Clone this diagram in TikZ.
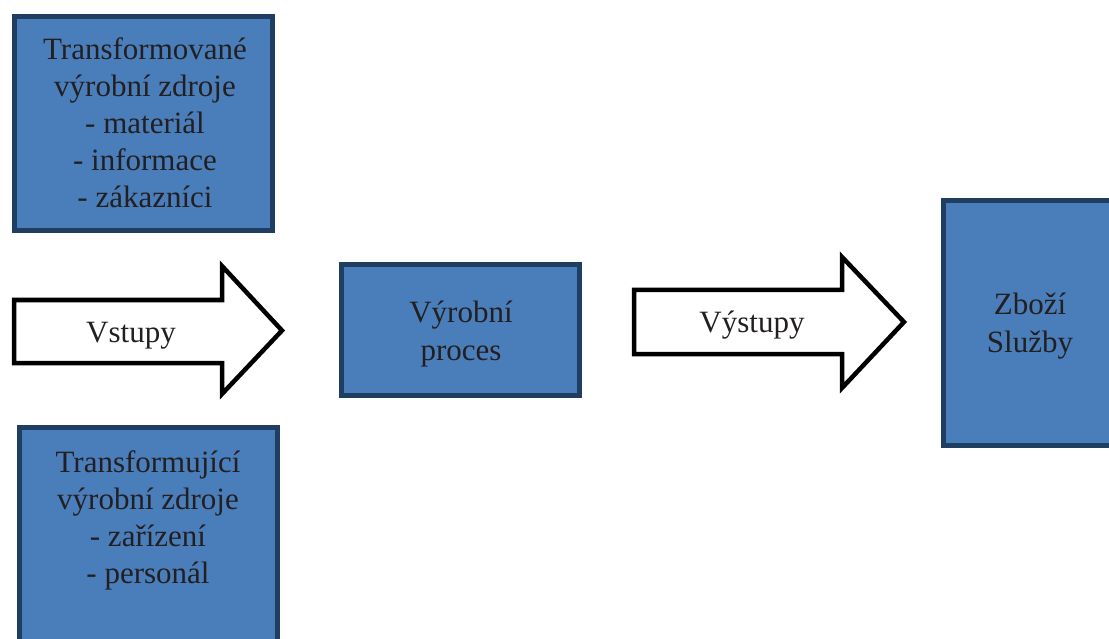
\documentclass[tikz,border=0pt]{standalone}
\usepackage{fontspec}
\setmainfont{Liberation Serif}
\definecolor{boxfill}{HTML}{4A7EBB}
\definecolor{boxline}{HTML}{1F3E62}
\definecolor{ink}{HTML}{231F20}
\begin{document}
\begin{tikzpicture}[x=1pt,y=-1pt,
  bluebox/.style={fill=boxfill,draw=boxline,line width=5pt},
  bigarrow/.style={fill=white,draw=black,line width=4.5pt,line join=miter},
  label/.style={text=ink,font=\fontsize{31}{37}\selectfont,align=center,inner sep=0pt,anchor=base}]
\useasboundingbox (0,0) rectangle (1109,639);
\clip (0,0) rectangle (1109,639);

% resource boxes on the left
\draw[bluebox] (14.5,16.5) rectangle (272.5,230.5);
\draw[bluebox] (19.5,427.5) rectangle (277.5,700);
% production process
\draw[bluebox] (341.5,264.5) rectangle (579.5,395.5);
% goods and services
\draw[bluebox] (943.5,200.5) rectangle (1116.5,445.5);

% block arrows
\draw[bigarrow] (14,300) -- (222,300) -- (222,266) -- (282,330.5) -- (222,394)
  -- (222,363) -- (14,363) -- cycle;
\draw[bigarrow] (634,290) -- (842,290) -- (842,257) -- (904,322) -- (842,388)
  -- (842,354) -- (634,354) -- cycle;

% texts
\node[label] (tv1) at (145,60) {Transformované};
\node[label] (tv2) at (145,97) {výrobní zdroje};
\node[label] (tv3) at (145,134) {- materiál};
\node[label] (tv4) at (145,171) {- informace};
\node[label] (tv5) at (145,208) {- zákazníci};

\node[label] (tj1) at (148,472) {Transformující};
\node[label] (tj2) at (148,509) {výrobní zdroje};
\node[label] (tj3) at (148,546) {- zařízení};
\node[label] (tj4) at (148,583) {- personál};

\node[label] (vs) at (131,342) {Vstupy};
\node[label] (vp1) at (461,322) {Výrobní};
\node[label] (vp2) at (461,360) {proces};
\node[label] (vy) at (752,332) {Výstupy};
\node[label] (zb1) at (1030,315) {Zboží};
\node[label] (zb2) at (1030,352) {Služby};
\end{tikzpicture}
\end{document}
